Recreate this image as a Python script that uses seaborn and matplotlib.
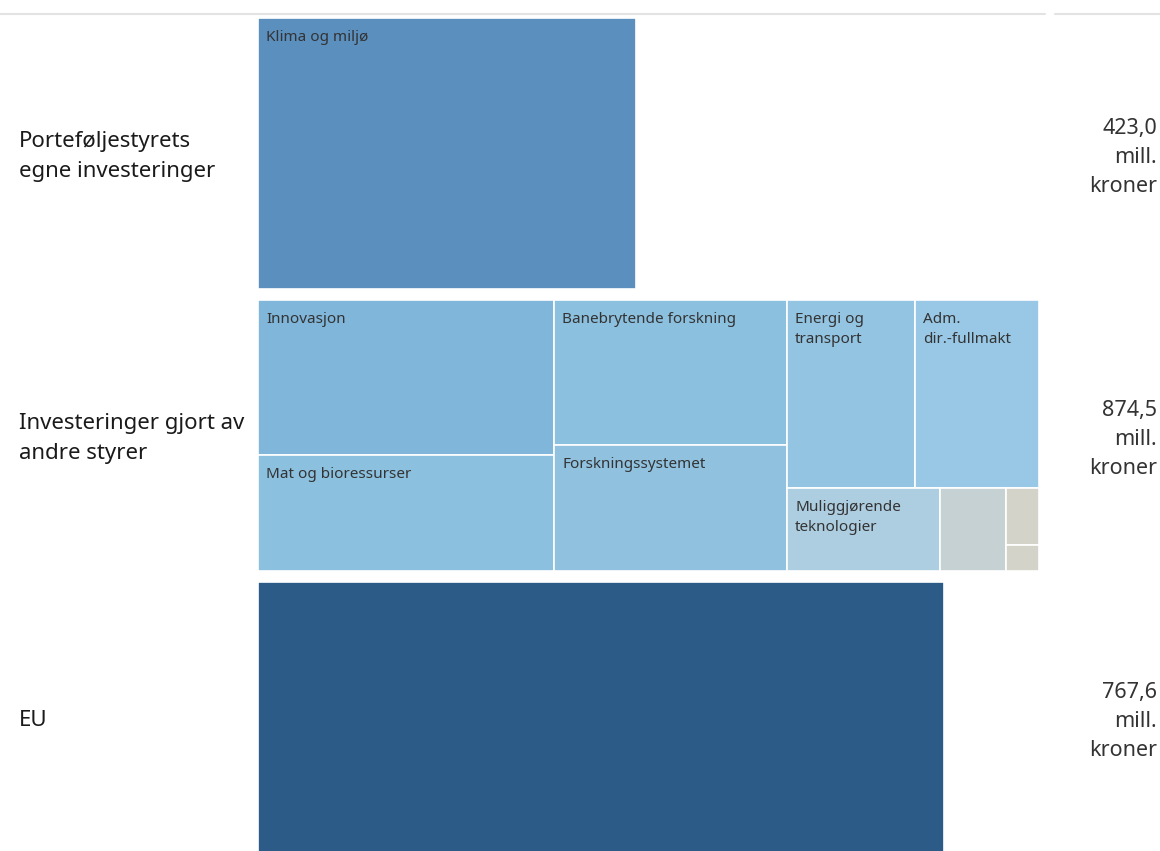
import textwrap
import matplotlib
matplotlib.use("Agg")
import matplotlib.pyplot as plt
import matplotlib.transforms as mtransforms
from matplotlib.lines import Line2D
import seaborn as sns

# data (mill. kroner)
group_labels = ["Porteføljestyrets\negne investeringer",
                "Investeringer gjort av\nandre styrer",
                "EU"]
group_totals = [423.0, 874.5, 767.6]

klima_names = ["Klima og miljø"]
klima_values = [423.0]

andre_names = ["Innovasjon", "Mat og bioressurser", "Banebrytende forskning",
               "Forskningssystemet", "Energi og transport", "Adm. dir.-fullmakt",
               "Muliggjørende teknologier", "Annet", "Annet 2", "Annet 3"]
andre_values = [189.6, 141.9, 139.6, 121.3, 99.4, 96.3, 52.5, 22.6, 7.8, 3.5]

eu_names = [""]
eu_values = [767.6]

colors = {
    "Klima og miljø": "#5b8fbe",
    "Innovasjon": "#80b6da",
    "Mat og bioressurser": "#8cc0df",
    "Banebrytende forskning": "#8cc0df",
    "Forskningssystemet": "#90c2e0",
    "Energi og transport": "#93c4e2",
    "Adm. dir.-fullmakt": "#98c8e5",
    "Muliggjørende teknologier": "#adcde0",
    "Annet": "#c5d1d3",
    "Annet 2": "#d4d3c9",
    "Annet 3": "#d4d3c9",
    "": "#2d5b88",
}

groups = [(klima_names, klima_values), (andre_names, andre_values), (eu_names, eu_values)]


def worst(row, side):
    t = sum(row) / side
    return max(max(t / (a / t), (a / t) / t) for a in row)


def squarify(areas, x, y, w, h, tol=1.8):
    # squarified treemap, a bit more tolerant than the textbook version
    rects = []
    i = 0
    while i < len(areas):
        side = min(w, h)
        row = [areas[i]]
        cur = worst(row, side)
        i += 1
        while i < len(areas):
            nxt = worst(row + [areas[i]], side)
            if nxt > cur * tol:
                break
            row.append(areas[i])
            cur = nxt
            i += 1
        t = sum(row) / side
        if w >= h:
            yy = y
            for a in row:
                rects.append((x, yy, t, a / t))
                yy += a / t
            x += t
            w -= t
        else:
            xx = x
            for a in row:
                rects.append((xx, y, a / t, t))
                xx += a / t
            y += t
            h -= t
    return rects


sns.set_theme(style="white")
plt.rcParams["font.family"] = ["Noto Sans", "DejaVu Sans"]

W, H = 1160, 851
fig = plt.figure(figsize=(W / 100, H / 100), dpi=100)
ax_left, ax_w = 258, 781
ax = fig.add_axes([ax_left / W, 0, ax_w / W, 1])
ax.set_xlim(0, max(group_totals))
row_pitch = 282  # px per row
row_h = 271 / row_pitch
top = 18 / row_pitch
ax.set_ylim(H / row_pitch - top, -top)
ax.axis("off")

sx = ax_w / max(group_totals)
sy = row_pitch

for gi, (names, values) in enumerate(groups):
    total = group_totals[gi]
    wpx, hpx = total * sx, row_h * sy
    areas = [v / sum(values) * wpx * hpx for v in values]
    for name, (x, y, w, h) in zip(names, squarify(areas, 0, 0, wpx, hpx)):
        ax.bar(x / sx, h / sy, width=w / sx, bottom=gi + y / sy, align="edge",
               color=colors[name], edgecolor="white", linewidth=1.2)
        if name and w > 100 and h > 45:
            txt = textwrap.fill(name, width=int((w - 16) / 8), break_on_hyphens=False)
            ax.text(x / sx + 8 / sx, gi + (y + 12) / sy, txt, ha="left", va="top",
                    fontsize=11, color="#333333", linespacing=1.45)

trans = mtransforms.blended_transform_factory(fig.transFigure, ax.transData)
for gi, label in enumerate(group_labels):
    yc = gi + row_h / 2
    fig.text(19 / W, yc + 3 / sy, label, transform=trans, ha="left", va="center",
             fontsize=16, color="#1a1a1a", linespacing=1.55)
    val = f"{group_totals[gi]:.1f}".replace(".", ",")
    fig.text(1157 / W, yc + 4 / sy, f"{val}\nmill.\nkroner", transform=trans, ha="right",
             va="center", multialignment="right", fontsize=15.5, color="#333333",
             linespacing=1.5)

yl = 1 - 14 / H
fig.add_artist(Line2D([0, 1045 / W], [yl, yl], color="#e3e3e3", lw=1.5))
fig.add_artist(Line2D([1055 / W, 1], [yl, yl], color="#e3e3e3", lw=1.5))

fig.savefig("out.png", dpi=100)
